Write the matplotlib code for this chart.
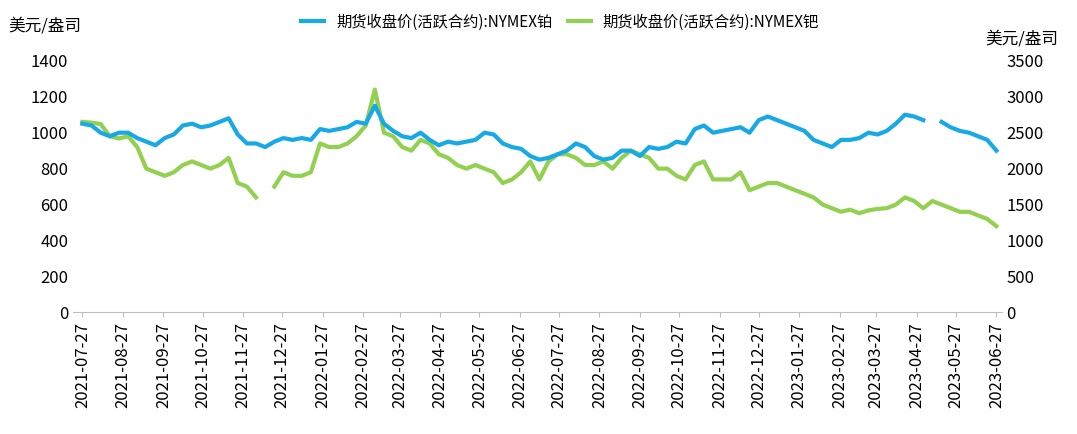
import numpy as np
import pandas as pd
import matplotlib.pyplot as plt
import matplotlib.dates as mdates

plt.rcParams['font.family'] = ['Noto Sans CJK SC', 'DejaVu Sans']

# weekly closes starting 2021-07-27
platinum = [
    1050, 1040, 1000, 980, 1000, 1000,          # 2021-07/08
    970, 950, 930, 970, 990,                    # 09
    1040, 1050, 1030, 1040,                     # 10
    1060, 1080, 990, 940,                       # 11
    940, 920, 950, 970,                         # 12
    960, 970, 960, 1020, 1010,                  # 2022-01
    1020, 1030, 1060, 1050,                     # 02
    1150, 1050, 1010, 980,                      # 03
    970, 1000, 960, 930,                        # 04
    950, 940, 950, 960, 1000,                   # 05
    990, 940, 920, 910,                         # 06
    870, 850, 860, 880,                         # 07
    900, 940, 920, 870, 850,                    # 08
    860, 900, 900, 870,                         # 09
    920, 910, 920, 950,                         # 10
    940, 1020, 1040, 1000, 1010,                # 11
    1020, 1030, 1000, 1070,                     # 12
    1090, 1070, 1050, 1030, 1010,               # 2023-01
    960, 940, 920, 960,                         # 02
    960, 970, 1000, 990,                        # 03
    1010, 1050, 1100, 1090,                     # 04
    1070, np.nan, 1060, 1030, 1010,             # 05
    1000, 980, 960, 900,                        # 06
]
palladium = [
    2650, 2640, 2620, 2450, 2420, 2450,
    2300, 2000, 1950, 1900, 1950,
    2050, 2100, 2050, 2000,
    2050, 2150, 1800, 1750,
    1600, np.nan, 1750, 1950,
    1900, 1900, 1950, 2350, 2300,
    2300, 2350, 2450, 2600,
    3100, 2500, 2450, 2300,
    2250, 2400, 2350, 2200,
    2150, 2050, 2000, 2050, 2000,
    1950, 1800, 1850, 1950,
    2100, 1850, 2100, 2200,
    2200, 2150, 2050, 2050, 2100,
    2000, 2150, 2250, 2200,
    2150, 2000, 2000, 1900,
    1850, 2050, 2100, 1850, 1850,
    1850, 1950, 1700, 1750,
    1800, 1800, 1750, 1700, 1650,
    1600, 1500, 1450, 1400,
    1430, 1380, 1420, 1440,
    1450, 1500, 1600, 1550,
    1450, 1550, 1500, 1450, 1400,
    1400, 1350, 1300, 1200,
]
n = min(len(platinum), len(palladium))
dates = pd.date_range('2021-07-27', periods=n, freq='7D')
month_ticks = pd.date_range('2021-07-01', '2023-06-01', freq='MS') + pd.Timedelta(days=26)

blue = '#17A9E6'
green = '#92D050'

fig, ax = plt.subplots(figsize=(10.77, 4.34), dpi=100)
fig.subplots_adjust(left=0.068, right=0.93, top=0.86, bottom=0.28)
ax2 = ax.twinx()
l1, = ax.plot(dates, platinum[:n], color=blue, lw=3, label='期货收盘价(活跃合约):NYMEX铂')
l2, = ax2.plot(dates, palladium[:n], color=green, lw=3, label='期货收盘价(活跃合约):NYMEX钯')
ax.set_zorder(ax2.get_zorder() + 1)
ax.patch.set_visible(False)

ax.set_ylim(0, 1400)
ax.set_yticks(range(0, 1401, 200))
ax2.set_ylim(0, 3500)
ax2.set_yticks(range(0, 3501, 500))
ax.set_xlim(pd.Timestamp('2021-07-20'), pd.Timestamp('2023-07-01'))
ax.set_xticks(month_ticks)
ax.xaxis.set_major_formatter(mdates.DateFormatter('%Y-%m-%d'))
plt.setp(ax.get_xticklabels(), rotation=90)

for a in (ax, ax2):
    for s in ('top', 'left', 'right'):
        a.spines[s].set_visible(False)
    a.tick_params(axis='y', length=0, labelsize=12)
ax2.spines['bottom'].set_visible(False)
ax.spines['bottom'].set_color('#BFBFBF')
ax.tick_params(axis='x', labelsize=12, color='#BFBFBF')

fig.text(0.008, 0.93, '美元/盎司', fontsize=12)
fig.text(0.915, 0.90, '美元/盎司', fontsize=12)
fig.legend(handles=[l1, l2], loc='upper center', ncol=2, frameon=False,
           fontsize=11, bbox_to_anchor=(0.52, 1.0), handlelength=1.5,
           columnspacing=1.0)
fig.savefig('out.png', dpi=100)
